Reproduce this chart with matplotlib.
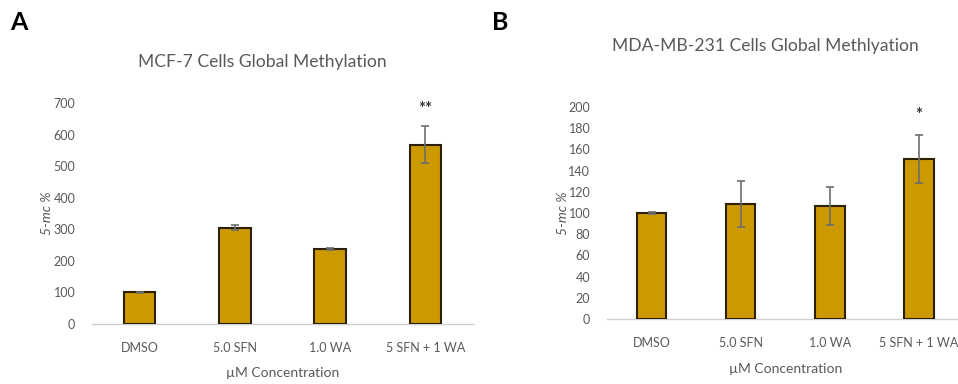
import matplotlib
matplotlib.use("Agg")
import matplotlib.pyplot as plt
import numpy as np

plt.rcParams['font.family'] = ['Lato', 'DejaVu Sans']

categories = ["DMSO", "5.0 SFN", "1.0 WA", "5 SFN + 1 WA"]
mcf7_values = [100, 305, 238, 568]
mcf7_errors = [1, 8, 3, 58]
mcf7_sig = ["", "", "", "**"]
mda_values = [100, 108.5, 106.5, 151]
mda_errors = [0.5, 22, 18, 23]
mda_sig = ["", "", "", "*"]

bar_color = "#CC9900"
edge_color = "#2b2000"
text_gray = "#595959"

fig = plt.figure(figsize=(9.58, 3.84), dpi=100)

def panel(rect, values, errors, sig, ymax, ystep, title, title_y, letter, letter_x, sig_y, ylabel_x, xlab_pad):
    ax = fig.add_axes(rect)
    x = np.arange(len(categories))
    ax.bar(x, values, width=0.33, color=bar_color, edgecolor=edge_color, linewidth=1.5,
           yerr=errors, error_kw=dict(ecolor="#6e6e6e", elinewidth=1.2, capsize=3, capthick=1.2), zorder=3)
    ax.set_xlim(-0.5, len(categories) - 0.5)
    ax.set_ylim(0, ymax)
    ax.set_yticks(np.arange(0, ymax + 1, ystep))
    ax.set_xticks(x)
    ax.set_xticklabels(categories)
    for s in ["top", "right", "left"]:
        ax.spines[s].set_visible(False)
    ax.spines["bottom"].set_color("#d0d0d0")
    ax.spines["bottom"].set_linewidth(1.0)
    ax.tick_params(axis="both", length=0, colors=text_gray, labelsize=9)
    ax.tick_params(axis="y", pad=12)
    ax.tick_params(axis="x", pad=13)
    ax.set_xlabel("µM Concentration", color=text_gray, fontsize=10, labelpad=xlab_pad)
    for xi, v, e, s in zip(x, values, errors, sig):
        if s:
            ax.text(xi, sig_y, s, ha="center", va="center", fontsize=12, color="#333333", fontweight="bold")
    fig.text(ylabel_x, rect[1] + rect[3] / 2, "5-mc %", rotation=90, style="italic",
             color=text_gray, fontsize=10, ha="center", va="center")
    fig.text(title[1], title_y, title[0], ha="center", va="center", fontsize=12.6, color="#595959")
    fig.text(letter_x, 1 - 22 / 384, letter, ha="left", va="center", fontsize=18, fontweight="bold", color="black")
    return ax

panel([92 / 958, 1 - 324 / 384, (473 - 92) / 958, (324 - 103) / 384],
      mcf7_values, mcf7_errors, mcf7_sig, 700, 100,
      ("MCF-7 Cells Global Methylation", 262 / 958), 1 - 62 / 384, "A", 10 / 958, 680, 47 / 958, 9)

panel([607 / 958, 1 - 319 / 384, (963.6 - 607) / 958, (319 - 107) / 384],
      mda_values, mda_errors, mda_sig, 200, 20,
      ("MDA-MB-231 Cells Global Methlyation", 765 / 958), 1 - 46 / 384, "B", 492 / 958, 192, 563 / 958, 10)

fig.savefig("out.png", dpi=100)
